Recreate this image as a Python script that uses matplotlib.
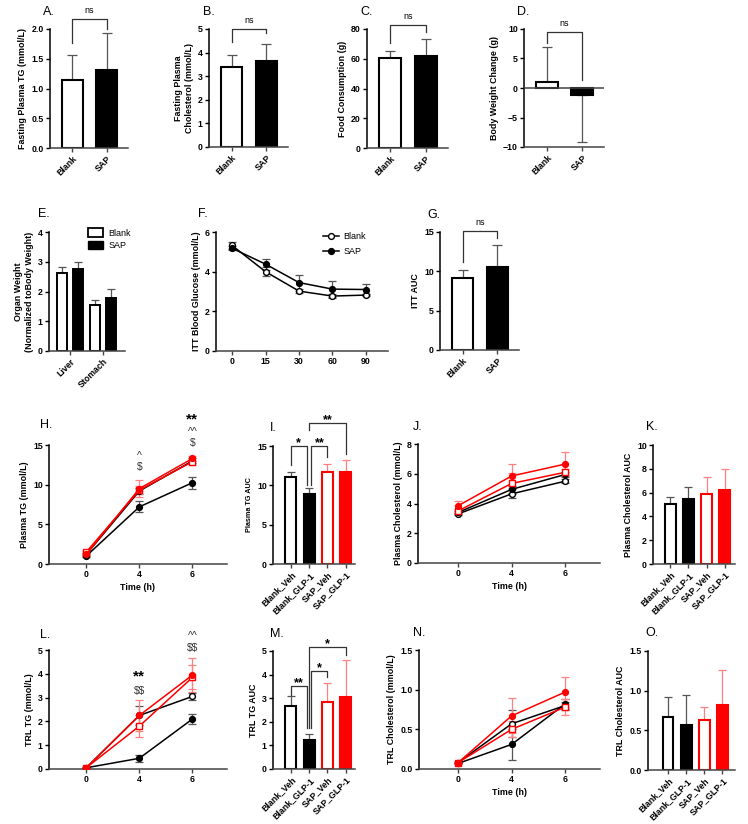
import numpy as np
import matplotlib
matplotlib.use('Agg')
import matplotlib.pyplot as plt
from matplotlib.patches import Patch

plt.rcParams['font.family'] = ['Liberation Sans', 'DejaVu Sans']
plt.rcParams['font.weight'] = 'bold'
plt.rcParams['axes.labelweight'] = 'bold'

W, H = 748, 824

# ---- data ----
GROUPS2 = ['Blank', 'SAP']
TG_FAST = [1.15, 1.31]
TG_FAST_SD = [0.41, 0.62]
CHOL_FAST = [3.40, 3.65]
CHOL_FAST_SD = [0.50, 0.73]
FOOD = [60.4, 62.0]
FOOD_SD = [4.5, 11.0]
BW_CHANGE = [1.1, -1.2]
BW_CHANGE_SD = [5.8, 8.0]

ORGANS = ['Liver', 'Stomach']
ORGAN_BLANK = [2.62, 1.55]
ORGAN_BLANK_SD = [0.22, 0.17]
ORGAN_SAP = [2.74, 1.77]
ORGAN_SAP_SD = [0.24, 0.33]

ITT_TIME = ['0', '15', '30', '60', '90']
ITT_BLANK = [5.32, 4.00, 3.02, 2.77, 2.82]
ITT_BLANK_SD = [0.18, 0.22, 0.10, 0.08, 0.07]
ITT_SAP = [5.18, 4.38, 3.45, 3.12, 3.10]
ITT_SAP_SD = [0.10, 0.28, 0.40, 0.42, 0.30]
ITT_AUC = [9.2, 10.6]
ITT_AUC_SD = [1.0, 2.8]

TIMES = ['0', '4', '6']
GROUPS4 = ['Blank_Veh', 'Blank_GLP-1', 'SAP_Veh', 'SAP_GLP-1']

PTG = {
    'Blank_Veh':   ([1.2, 9.2, 13.0], [0.2, 0.4, 0.3]),
    'Blank_GLP-1': ([1.0, 7.2, 10.25], [0.15, 0.7, 0.75]),
    'SAP_Veh':     ([1.5, 9.3, 12.9], [0.2, 0.5, 0.4]),
    'SAP_GLP-1':   ([1.2, 9.5, 13.3], [0.2, 1.05, 0.3]),
}
PTG_AUC = [11.0, 8.9, 11.7, 11.7]
PTG_AUC_SD = [0.7, 0.8, 1.0, 1.5]

PCHOL = {
    'Blank_Veh':   ([3.3, 4.65, 5.5], [0.08, 0.3, 0.12]),
    'Blank_GLP-1': ([3.4, 4.95, 5.95], [0.1, 0.25, 0.15]),
    'SAP_Veh':     ([3.5, 5.35, 6.1], [0.12, 0.7, 0.2]),
    'SAP_GLP-1':   ([3.85, 5.85, 6.65], [0.35, 0.78, 0.8]),
}
PCHOL_AUC = [5.05, 5.45, 5.85, 6.25]
PCHOL_AUC_SD = [0.6, 1.05, 1.45, 1.7]

TRL_TG = {
    'Blank_Veh':   ([0.05, 2.25, 3.05], [0.02, 0.4, 0.15]),
    'Blank_GLP-1': ([0.05, 0.45, 2.1], [0.02, 0.15, 0.22]),
    'SAP_Veh':     ([0.05, 1.8, 3.85], [0.02, 0.45, 0.5]),
    'SAP_GLP-1':   ([0.05, 2.25, 3.95], [0.02, 0.65, 0.72]),
}
TRL_TG_AUC = [2.65, 1.25, 2.85, 3.05]
TRL_TG_AUC_SD = [0.43, 0.25, 0.8, 1.57]

TRL_CHOL = {
    'Blank_Veh':   ([0.08, 0.57, 0.80], [0.01, 0.17, 0.05]),
    'Blank_GLP-1': ([0.07, 0.31, 0.82], [0.01, 0.20, 0.06]),
    'SAP_Veh':     ([0.08, 0.50, 0.78], [0.01, 0.10, 0.10]),
    'SAP_GLP-1':   ([0.08, 0.67, 0.97], [0.02, 0.22, 0.19]),
}
TRL_CHOL_AUC = [0.665, 0.565, 0.635, 0.815]
TRL_CHOL_AUC_SD = [0.25, 0.375, 0.155, 0.45]

# ---- styles ----
RED = '#ff0000'
RED_ERR = '#ff8080'
BLK_ERR = '#555555'
FACE4 = ['white', 'black', 'white', RED]
EDGE4 = ['black', 'black', RED, RED]
ERR4 = [BLK_ERR, BLK_ERR, RED_ERR, RED_ERR]
LINE4 = {'Blank_Veh': ('black', 'o', 'white'),
         'Blank_GLP-1': ('black', 'o', 'black'),
         'SAP_Veh': (RED, 's', 'white'),
         'SAP_GLP-1': (RED, 'o', RED)}
TICK_FS = 6.3
LAB_FS = 6.4


def px_axes(fig, l, t, r, b):
    return fig.add_axes([l / W, 1 - b / H, (r - l) / W, (b - t) / H])


def style(ax):
    for s in ['top', 'right']:
        ax.spines[s].set_visible(False)
    ax.spines['left'].set_linewidth(1.1)
    ax.spines['bottom'].set_linewidth(1.1)
    ax.spines['bottom'].set_color('#444444')
    ax.tick_params(width=1.0, length=3, labelsize=TICK_FS, pad=1.5)
    ax.tick_params(axis='x', color='#444444')


def panel_letter(fig, x, y, s):
    fig.text(x / W, 1 - y / H, s, fontsize=9, fontweight='normal', ha='left', va='center')


def bracket(ax, x1, x2, y, y1, y2, label, fs=6.5, weight='normal', dy=0.0):
    ax.plot([x1, x1, x2, x2], [y1, y, y, y2], color='#333333', lw=0.9, clip_on=False)
    ax.text((x1 + x2) / 2, y + dy, label, ha='center', va='bottom', fontsize=fs,
            fontweight=weight, clip_on=False)


def sig_marks(ax, marks):
    # marks: (x, y, text) ; '**' drawn large and black, the rest small grey
    for xx, yy, s in marks:
        big = s == '**'
        ax.text(xx, yy, s, ha='center', va='center', fontsize=11 if big else 7.5,
                color='black' if big else '#333333',
                fontweight='bold' if big else 'normal', clip_on=False)


def bars2(ax, vals, sds, ylim, yticks, ylabel):
    x = np.arange(len(vals))
    ax.bar(x, vals, 0.62, color=['white', 'black'], edgecolor='black', linewidth=1.5, zorder=2)
    lo = [sd if v < 0 else 0 for v, sd in zip(vals, sds)]
    hi = [0 if v < 0 else sd for v, sd in zip(vals, sds)]
    ax.errorbar(x, vals, yerr=[lo, hi], fmt='none', ecolor=BLK_ERR, elinewidth=0.9,
                capsize=3.5, capthick=0.9, zorder=1)
    ax.set_xlim(-0.65, 1.62)
    ax.set_ylim(*ylim)
    ax.set_yticks(yticks)
    ax.set_xticks(x)
    ax.set_xticklabels(GROUPS2, rotation=45, ha='right', rotation_mode='anchor')
    ax.set_ylabel(ylabel, fontsize=LAB_FS, labelpad=3)
    style(ax)


def bars4(ax, vals, sds, ylim, yticks, ylabel, xlim=(-0.97, 3.5), labfs=LAB_FS):
    x = np.arange(len(vals))
    ax.bar(x, vals, 0.6, color=FACE4, edgecolor=EDGE4, linewidth=1.5, zorder=2)
    for i in range(len(vals)):
        ax.errorbar(x[i], vals[i], yerr=[[0], [sds[i]]], fmt='none', ecolor=ERR4[i],
                    elinewidth=0.9, capsize=3.2, capthick=0.9, zorder=1)
    ax.set_xlim(*xlim)
    ax.set_ylim(*ylim)
    ax.set_yticks(yticks)
    ax.set_xticks(x)
    ax.set_xticklabels(GROUPS4, rotation=45, ha='right', rotation_mode='anchor')
    ax.set_ylabel(ylabel, fontsize=labfs, labelpad=3)
    style(ax)


def lines4(ax, data, ylim, yticks, ylabel, xlabel=None, xlim=(-0.7, 2.65)):
    x = np.arange(len(TIMES))
    for g in GROUPS4:
        vals, sds = data[g]
        col, mk, mf = LINE4[g]
        ecol = BLK_ERR if col == 'black' else RED_ERR
        ax.errorbar(x, vals, yerr=sds, fmt='none', ecolor=ecol, elinewidth=0.9,
                    capsize=3, capthick=0.9, zorder=2)
        ax.plot(x, vals, color=col, lw=1.1, marker=mk, markersize=4.2,
                markerfacecolor=mf, markeredgecolor=col, markeredgewidth=1.0, zorder=3)
    ax.set_xlim(*xlim)
    ax.set_ylim(*ylim)
    ax.set_yticks(yticks)
    ax.set_xticks(x)
    ax.set_xticklabels(TIMES)
    ax.set_ylabel(ylabel, fontsize=LAB_FS, labelpad=3)
    if xlabel:
        ax.set_xlabel(xlabel, fontsize=LAB_FS, labelpad=3)
    style(ax)


fig = plt.figure(figsize=(W / 100, H / 100), dpi=100)

# ---- row 1 ----
axA = px_axes(fig, 50, 29, 128, 148)
bars2(axA, TG_FAST, TG_FAST_SD, (0, 2.0), [0, 0.5, 1.0, 1.5, 2.0], 'Fasting Plasma TG (mmol/L)')
axA.set_yticklabels(['0.0', '0.5', '1.0', '1.5', '2.0'])
bracket(axA, 0, 1, 2.17, 1.76, 2.0, 'ns', dy=0.06)
panel_letter(fig, 43, 12, 'A.')

axB = px_axes(fig, 209, 29, 288, 147)
bars2(axB, CHOL_FAST, CHOL_FAST_SD, (0, 5), range(0, 6), 'Fasting Plasma\nCholesterol (mmol/L)')
bracket(axB, 0, 1, 5.0, 4.45, 4.83, 'ns', dy=0.15)
panel_letter(fig, 203, 12, 'B.')

axC = px_axes(fig, 367, 29, 448, 148)
bars2(axC, FOOD, FOOD_SD, (0, 80), range(0, 81, 20), 'Food Consumption (g)')
bracket(axC, 0, 1, 82.6, 70.5, 78, 'ns', dy=2.5)
panel_letter(fig, 360, 12, 'C.')

axD = px_axes(fig, 524, 29, 604, 147)
bars2(axD, BW_CHANGE, BW_CHANGE_SD, (-10, 10), range(-10, 11, 5), 'Body Weight Change (g)')
axD.axhline(0, color='#444444', lw=1.1, zorder=3)
bracket(axD, 0, 1, 9.5, 7.6, 1.4, 'ns', dy=0.6)
panel_letter(fig, 517, 12, 'D.')

# ---- row 2 ----
axE = px_axes(fig, 49, 232, 125, 351)
xg = np.arange(len(ORGANS))
axE.bar(xg - 0.25, ORGAN_BLANK, 0.3, color='white', edgecolor='black', linewidth=1.4, zorder=2)
axE.bar(xg + 0.25, ORGAN_SAP, 0.3, color='black', edgecolor='black', linewidth=1.4, zorder=2)
axE.errorbar(xg - 0.25, ORGAN_BLANK, yerr=[[0, 0], ORGAN_BLANK_SD], fmt='none', ecolor=BLK_ERR,
             elinewidth=0.9, capsize=3, capthick=0.9, zorder=1)
axE.errorbar(xg + 0.25, ORGAN_SAP, yerr=[[0, 0], ORGAN_SAP_SD], fmt='none', ecolor=BLK_ERR,
             elinewidth=0.9, capsize=3, capthick=0.9, zorder=1)
axE.set_xlim(-0.64, 1.67)
axE.set_ylim(0, 4)
axE.set_yticks(range(0, 5))
axE.set_xticks(xg)
axE.set_xticklabels(ORGANS, rotation=45, ha='right', rotation_mode='anchor')
axE.set_ylabel('Organ Weight\n(Normalized toBody Weight)', fontsize=LAB_FS, labelpad=3)
style(axE)
axE.legend(handles=[Patch(facecolor='white', edgecolor='black', linewidth=1.3, label='Blank'),
                    Patch(facecolor='black', edgecolor='black', label='SAP')],
           loc='upper left', bbox_to_anchor=(0.47, 1.06), frameon=False,
           prop={'size': 6.5, 'weight': 'normal'}, handlelength=1.6, handleheight=1.0,
           labelspacing=0.35, handletextpad=0.6, borderaxespad=0)
panel_letter(fig, 38, 214, 'E.')

axF = px_axes(fig, 216, 232, 388, 351)
xt = np.arange(len(ITT_TIME))
axF.errorbar(xt, ITT_BLANK, yerr=ITT_BLANK_SD, fmt='none', ecolor=BLK_ERR, elinewidth=0.9,
             capsize=3, capthick=0.9, zorder=2)
axF.errorbar(xt, ITT_SAP, yerr=ITT_SAP_SD, fmt='none', ecolor=BLK_ERR, elinewidth=0.9,
             capsize=3, capthick=0.9, zorder=2)
axF.plot(xt, ITT_BLANK, color='black', lw=1.1, marker='o', markersize=4.2,
         markerfacecolor='white', markeredgewidth=1.0, zorder=3, label='Blank')
axF.plot(xt, ITT_SAP, color='black', lw=1.1, marker='o', markersize=4.2,
         markerfacecolor='black', zorder=3, label='SAP')
axF.set_xlim(-0.48, 4.66)
axF.set_ylim(0, 6)
axF.set_yticks(range(0, 7, 2))
axF.set_xticks(xt)
axF.set_xticklabels(ITT_TIME)
axF.set_ylabel('ITT Blood Glucose (mmol/L)', fontsize=LAB_FS, labelpad=3)
style(axF)
axF.legend(loc='upper left', bbox_to_anchor=(0.6, 1.03), frameon=False,
           prop={'size': 6.5, 'weight': 'normal'}, handlelength=1.8, labelspacing=0.7,
           handletextpad=0.5, borderaxespad=0)
panel_letter(fig, 198, 214, 'F.')

axG = px_axes(fig, 440, 232, 519, 350)
bars2(axG, ITT_AUC, ITT_AUC_SD, (0, 15), range(0, 16, 5), 'ITT AUC')
bracket(axG, 0, 1, 15.1, 11.2, 14.2, 'ns', dy=0.5)
panel_letter(fig, 427, 215, 'G.')

# ---- row 3 ----
axH = px_axes(fig, 49, 445, 227, 564)
lines4(axH, PTG, (0, 15), range(0, 16, 5), 'Plasma TG (mmol/L)', 'Time (h)')
sig_marks(axH, [(1, 13.6, '^'), (1, 12.2, '\\$'), (2, 18.2, '**'),
                (2, 16.7, '^^'), (2, 15.3, '\\$')])
panel_letter(fig, 40, 425, 'H.')

axI = px_axes(fig, 273, 446, 355, 564)
bars4(axI, PTG_AUC, PTG_AUC_SD, (0, 15), range(0, 16, 5), 'Plasma TG AUC', labfs=5.2)
bracket(axI, 0, 0.88, 15.0, 12.6, 10.0, '*', fs=9, weight='bold', dy=-0.4)
bracket(axI, 1.12, 2, 15.0, 10.0, 13.6, '**', fs=9, weight='bold', dy=-0.4)
bracket(axI, 1.0, 3, 17.9, 17.0, 14.0, '**', fs=9, weight='bold', dy=-0.4)
panel_letter(fig, 270, 428, 'I.')

axJ = px_axes(fig, 418, 444, 600, 563)
lines4(axJ, PCHOL, (0, 8), range(0, 9, 2), 'Plasma Cholesterol (mmol/L)', 'Time (h)',
       xlim=(-0.75, 2.65))
panel_letter(fig, 413, 427, 'J.')

axK = px_axes(fig, 653, 445, 735, 564)
bars4(axK, PCHOL_AUC, PCHOL_AUC_SD, (0, 10), range(0, 11, 2), 'Plasma Cholesterol AUC',
      xlim=(-0.93, 3.55))
panel_letter(fig, 646, 427, 'K.')

# ---- row 4 ----
axL = px_axes(fig, 49, 650, 227, 769)
lines4(axL, TRL_TG, (0, 5), range(0, 6), 'TRL TG (mmol/L)')
sig_marks(axL, [(1, 3.87, '**'), (1, 3.28, '\\$\\$'),
                (2, 5.58, '^^'), (2, 5.08, '\\$\\$')])
panel_letter(fig, 40, 635, 'L.')

axM = px_axes(fig, 273, 651, 355, 769)
bars4(axM, TRL_TG_AUC, TRL_TG_AUC_SD, (0, 5), range(0, 6), 'TRL TG AUC')
bracket(axM, 0, 0.88, 3.5, 3.14, 1.74, '**', fs=9, weight='bold', dy=-0.12)
bracket(axM, 1.12, 2, 4.15, 1.74, 3.9, '*', fs=9, weight='bold', dy=-0.12)
bracket(axM, 1.0, 3, 5.17, 1.74, 4.83, '*', fs=9, weight='bold', dy=-0.12)
panel_letter(fig, 270, 634, 'M.')

axN = px_axes(fig, 419, 650, 600, 769)
lines4(axN, TRL_CHOL, (0, 1.5), [0, 0.5, 1.0, 1.5], 'TRL Cholesterol (mmol/L)', 'Time (h)',
       xlim=(-0.73, 2.65))
axN.set_yticklabels(['0.0', '0.5', '1.0', '1.5'])
panel_letter(fig, 413, 633, 'N.')

axO = px_axes(fig, 648, 651, 735, 770)
bars4(axO, TRL_CHOL_AUC, TRL_CHOL_AUC_SD, (0, 1.5), [0, 0.5, 1.0, 1.5], 'TRL Cholesterol AUC',
      xlim=(-1.1, 3.7))
axO.set_yticklabels(['0.0', '0.5', '1.0', '1.5'])
panel_letter(fig, 645, 633, 'O.')

fig.savefig('out.png', dpi=100, facecolor='white')
